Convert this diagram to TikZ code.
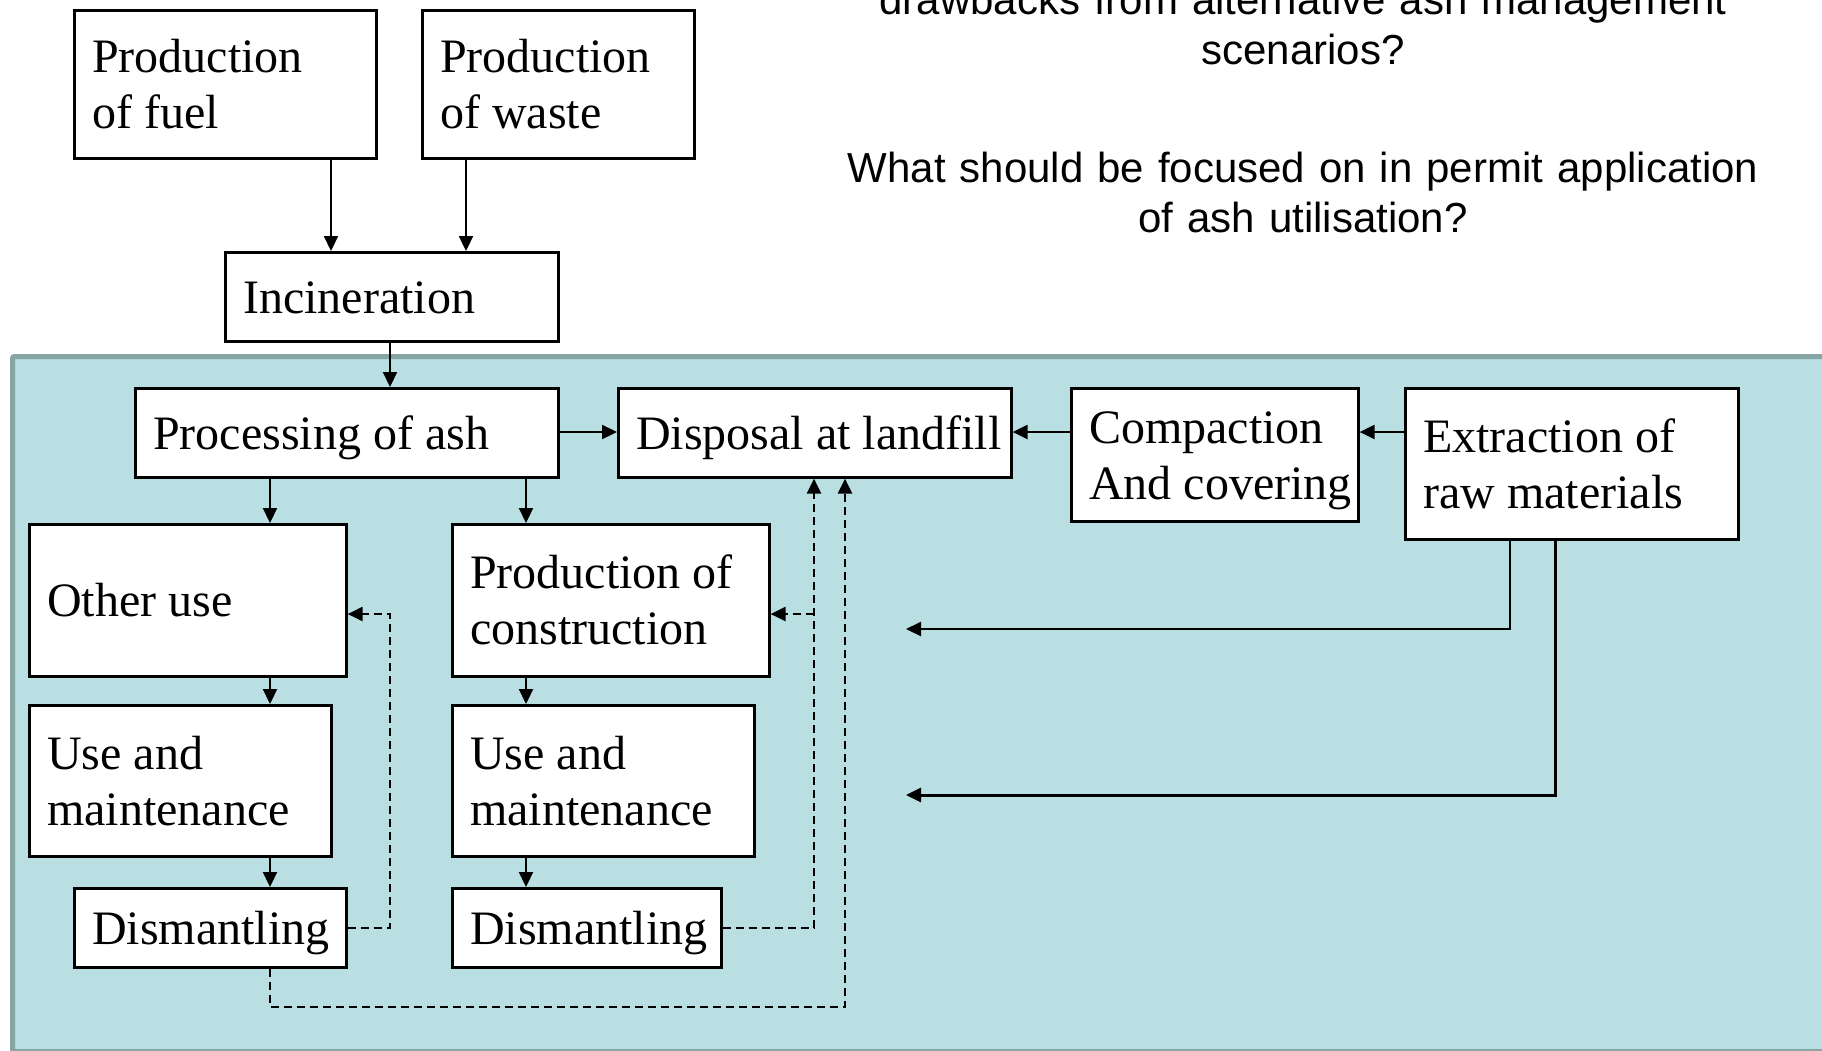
\documentclass[tikz,border=0pt]{standalone}
\usepackage{fontspec}
\setmainfont{Liberation Serif}
\newfontfamily\qfont{Liberation Sans}
\usetikzlibrary{arrows.meta}
\definecolor{panelfill}{RGB}{185,223,226}
\definecolor{panelrule}{RGB}{134,165,165}
% line box with the font's full ascent and descent
\newcommand\linebox{\rule[-.216em]{0pt}{1.107em}}
\begin{document}
\begin{tikzpicture}[x=1pt,y=-1pt,
  stage/.style={draw=black, line width=2.6pt, fill=white, anchor=north west,
    inner xsep=18pt, inner ysep=0pt, align=left,
    font=\fontsize{48}{56}\selectfont,
    execute at begin node={\spaceskip=0pt\xspaceskip=0pt\hyphenpenalty=10000\exhyphenpenalty=10000\linebox},
    execute at end node={\linebox}},
  flow/.style={line width=2.2pt, -{Triangle[length=15pt,width=14pt]}},
  back/.style={flow, dash pattern=on 8pt off 5pt},
  question/.style={font=\qfont\fontsize{42}{50}\selectfont, align=center,
    text width=1000pt, inner sep=0pt, anchor=base}]
\useasboundingbox (0,0) rectangle (1822,1050);
\fill[white] (0,0) rectangle (1822,1050);
% shaded panel holding the ash-handling chain
\draw[panelrule, fill=panelfill, line width=5pt, rounded corners=2pt]
  (12.5,356.5) rectangle (1850,1051.5);

% questions
\node[question] (q1) at (1303,14) {drawbacks from alternative ash management\\scenarios?};
\node[question] (q2) at (1303,182) {What should be focused on in permit application\\of ash utilisation?};

% process steps
\node[stage, text width=266pt, minimum height=148pt] (fuel)  at (73,9)    {Production\\of fuel};
\node[stage, text width=236pt, minimum height=148pt] (waste) at (421,9)   {Production\\of waste};
\node[stage, text width=297pt, minimum height=89pt]  (inc)   at (224,251) {Incineration};
\node[stage, text width=387pt, minimum height=89pt]  (proc)  at (134,387) {Processing of ash};
\node[stage, text width=357pt, minimum height=89pt]  (disp)  at (617,387) {\mbox{Disposal at landfill}};
\node[stage, text width=251pt, minimum height=133pt] (comp)  at (1070,387) {Compaction\\\mbox{And covering}};
\node[stage, text width=297pt, minimum height=151pt] (extr)  at (1404,387) {Extraction of\\raw materials};
\node[stage, text width=281pt, minimum height=152pt] (other) at (28,523)  {Other use};
\node[stage, text width=281pt, minimum height=152pt] (prodc) at (451,523) {Production of\\construction};
\node[stage, text width=266pt, minimum height=151pt] (use1)  at (28,704)  {Use and\\maintenance};
\node[stage, text width=266pt, minimum height=151pt] (use2)  at (451,704) {Use and\\maintenance};
\node[stage, text width=236pt, minimum height=79pt]  (dis1)  at (73,887)  {\mbox{Dismantling}};
\node[stage, text width=233pt, minimum height=79pt]  (dis2)  at (451,887) {\mbox{Dismantling}};

% connector columns and rows
\coordinate (xfuel)  at (331,0);
\coordinate (xwaste) at (466,0);
\coordinate (xinc)   at (390,0);
\coordinate (xleft)  at (270,0);
\coordinate (xright) at (526,0);
\coordinate (xloopL) at (390,0);
\coordinate (xloopR) at (814,0);
\coordinate (xloopB) at (845,0);
\coordinate (xe1)    at (1510,0);
\coordinate (xe2)    at (1555,0);
\coordinate (yrow)   at (0,432);
\coordinate (yback)  at (0,614);
\coordinate (ybottom) at (0,1007);
\coordinate (ext1)   at (906,629);
\coordinate (ext2)   at (906,795);

% main flow
\draw[flow] (fuel.south -| xfuel) -- (inc.north -| xfuel);
\draw[flow] (waste.south -| xwaste) -- (inc.north -| xwaste);
\draw[flow] (inc.south -| xinc) -- (proc.north -| xinc);
\draw[flow] (proc.east |- yrow) -- (disp.west |- yrow);
\draw[flow] (comp.west |- yrow) -- (disp.east |- yrow);
\draw[flow] (extr.west |- yrow) -- (comp.east |- yrow);
\draw[flow] (proc.south -| xleft) -- (other.north -| xleft);
\draw[flow] (proc.south -| xright) -- (prodc.north -| xright);
\draw[flow] (other.south -| xleft) -- (use1.north -| xleft);
\draw[flow] (use1.south -| xleft) -- (dis1.north -| xleft);
\draw[flow] (prodc.south -| xright) -- (use2.north -| xright);
\draw[flow] (use2.south -| xright) -- (dis2.north -| xright);

% return flows after dismantling
\draw[back] (dis1.east) -| (xloopL |- yback) -- (other.east |- yback);
\draw[back] (dis2.east) -| (disp.south -| xloopR);
\draw[back] (xloopR |- yback) -- (prodc.east |- yback);
\draw[back] (dis1.south -| xleft) -- (xleft |- ybottom) -| (disp.south -| xloopB);

% raw material extraction
\draw[flow] (extr.south -| xe1) |- (ext1);
\draw[flow, line width=3pt] (extr.south -| xe2) |- (ext2);
\end{tikzpicture}
\end{document}
